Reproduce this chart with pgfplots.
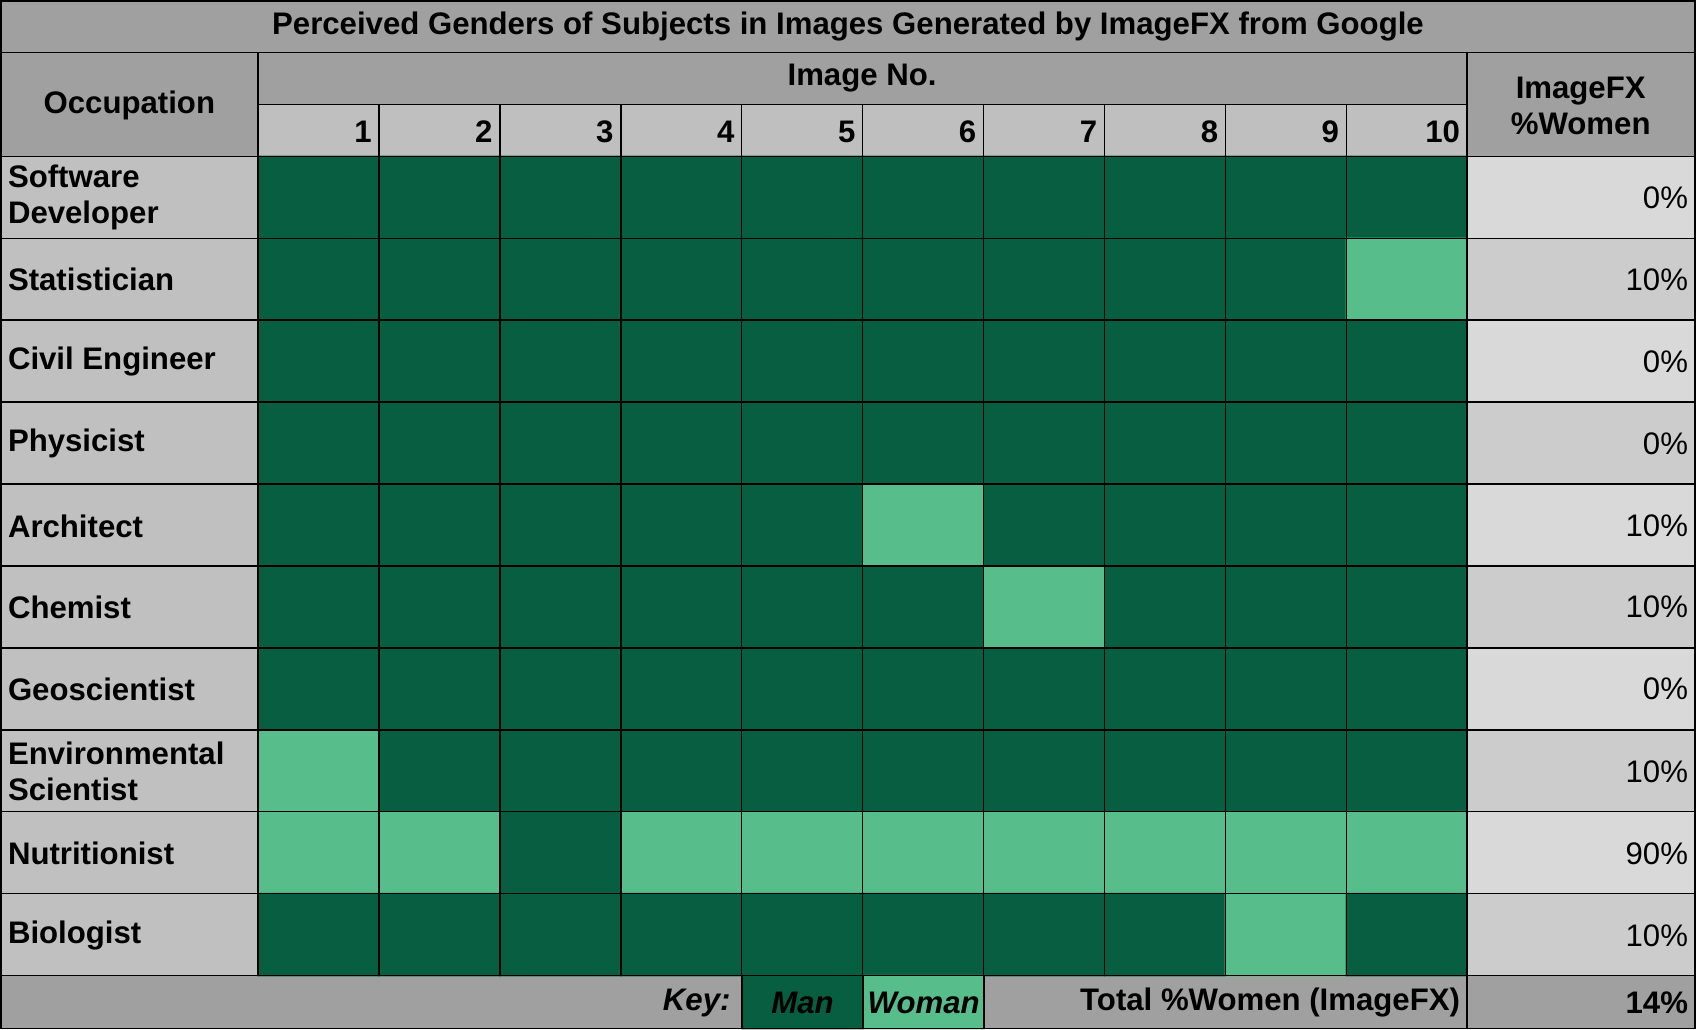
\documentclass[border=0pt]{standalone}
\usepackage{pgfplots}
\pgfplotsset{compat=1.18}
\usepackage{fontspec}
\setmainfont{Liberation Sans}
\definecolor{dk}{RGB}{7,94,64}
\definecolor{lt}{RGB}{87,190,139}
\definecolor{hd}{RGB}{160,160,160}
\definecolor{nb}{RGB}{191,191,191}
\definecolor{lc}{RGB}{192,192,192}
\definecolor{ra}{RGB}{217,217,217}
\definecolor{rb}{RGB}{204,204,204}
\begin{document}
\begin{tikzpicture}
\begin{axis}[x=0.01cm,y=0.01cm,y dir=reverse,xmin=0,xmax=1568,ymin=0,ymax=951,
  hide axis,clip=false,scale only axis,
  colormap={gm}{color(0)=(dk) color(1)=(lt)},point meta min=0,point meta max=1]
\fill[hd] (0,0) rectangle (1568,951);
\fill[nb] (238,96) rectangle (1357,144);
\fill[lc] (0,144) rectangle (238,902);
\pgfplotsinvokeforeach{0,2,4,6,8}{\fill[ra] (1357,{144+75.8*#1}) rectangle (1568,{144+75.8*(#1+1)});
 \fill[rb] (1357,{144+75.8*(#1+1)}) rectangle (1568,{144+75.8*(#1+2)});}
\addplot[matrix plot*,mesh/cols=10,point meta=explicit,shader=flat corner] table[meta=m]{
x y m
293.95 181.9 0
405.85 181.9 0
517.75 181.9 0
629.65 181.9 0
741.55 181.9 0
853.45 181.9 0
965.35 181.9 0
1077.25 181.9 0
1189.15 181.9 0
1301.05 181.9 0
293.95 257.7 0
405.85 257.7 0
517.75 257.7 0
629.65 257.7 0
741.55 257.7 0
853.45 257.7 0
965.35 257.7 0
1077.25 257.7 0
1189.15 257.7 0
1301.05 257.7 1
293.95 333.5 0
405.85 333.5 0
517.75 333.5 0
629.65 333.5 0
741.55 333.5 0
853.45 333.5 0
965.35 333.5 0
1077.25 333.5 0
1189.15 333.5 0
1301.05 333.5 0
293.95 409.3 0
405.85 409.3 0
517.75 409.3 0
629.65 409.3 0
741.55 409.3 0
853.45 409.3 0
965.35 409.3 0
1077.25 409.3 0
1189.15 409.3 0
1301.05 409.3 0
293.95 485.1 0
405.85 485.1 0
517.75 485.1 0
629.65 485.1 0
741.55 485.1 0
853.45 485.1 1
965.35 485.1 0
1077.25 485.1 0
1189.15 485.1 0
1301.05 485.1 0
293.95 560.9 0
405.85 560.9 0
517.75 560.9 0
629.65 560.9 0
741.55 560.9 0
853.45 560.9 0
965.35 560.9 1
1077.25 560.9 0
1189.15 560.9 0
1301.05 560.9 0
293.95 636.7 0
405.85 636.7 0
517.75 636.7 0
629.65 636.7 0
741.55 636.7 0
853.45 636.7 0
965.35 636.7 0
1077.25 636.7 0
1189.15 636.7 0
1301.05 636.7 0
293.95 712.5 1
405.85 712.5 0
517.75 712.5 0
629.65 712.5 0
741.55 712.5 0
853.45 712.5 0
965.35 712.5 0
1077.25 712.5 0
1189.15 712.5 0
1301.05 712.5 0
293.95 788.3 1
405.85 788.3 1
517.75 788.3 0
629.65 788.3 1
741.55 788.3 1
853.45 788.3 1
965.35 788.3 1
1077.25 788.3 1
1189.15 788.3 1
1301.05 788.3 1
293.95 864.1 0
405.85 864.1 0
517.75 864.1 0
629.65 864.1 0
741.55 864.1 0
853.45 864.1 0
965.35 864.1 0
1077.25 864.1 0
1189.15 864.1 1
1301.05 864.1 0
};
\addplot[matrix plot*,mesh/cols=2,mesh/rows=2,point meta=explicit,shader=flat corner] table[meta=m]{
x y m
742 914.25 0
854 914.25 1
742 938.75 0
854 938.75 1
};
\begin{scope}[line width=0.4pt]
\draw (0,0) rectangle (1568,951);
\draw (0,48)--(1568,48);
\draw (238,96)--(1357,96);
\pgfplotsinvokeforeach{0,...,10}{\draw (0,{144+75.8*#1})--(1568,{144+75.8*#1});}
\draw (238,48)--(238,902);
\draw (1357,48)--(1357,951);
\pgfplotsinvokeforeach{1,...,9}{\draw ({238+111.9*#1},96)--({238+111.9*#1},902);}
\draw (686,902)--(686,951); \draw (798,902)--(798,951); \draw (910,902)--(910,951);
\end{scope}
\begin{scope}[font=\fontsize{8.2}{9.4}\selectfont\bfseries,inner sep=0pt]
\node at (784,24) {Perceived Genders of Subjects in Images Generated by ImageFX from Google};
\node at (119,97) {Occupation};
\node at (797,72) {Image No.};
\node[align=center] at (1462,97) {ImageFX\\\%Women};
\pgfplotsinvokeforeach{1,...,10}{\node[anchor=east] at ({238+111.9*#1-6},121) {#1};}
\node[anchor=west,align=left] at (6,182) {Software\\Developer};
\node[anchor=west] at (6,258) {Statistician};
\node[anchor=west] at (6,334) {Civil Engineer};
\node[anchor=west] at (6,410) {Physicist};
\node[anchor=west] at (6,486) {Architect};
\node[anchor=west] at (6,561) {Chemist};
\node[anchor=west] at (6,637) {Geoscientist};
\node[anchor=west,align=left] at (6,713) {Environmental\\Scientist};
\node[anchor=west] at (6,789) {Nutritionist};
\node[anchor=west] at (6,865) {Biologist};
\node[anchor=east] at (676,927) {\itshape Key:};
\node at (742,927) {\itshape Man};
\node at (854,927) {\itshape Woman};
\node[anchor=east] at (1351,927) {Total \%Women (ImageFX)};
\node[anchor=east] at (1562,927) {14\%};
\end{scope}
\begin{scope}[font=\fontsize{8.2}{9.4}\selectfont,inner sep=0pt]
\node[anchor=east] at (1562,182) {0\%};
\node[anchor=east] at (1562,258) {10\%};
\node[anchor=east] at (1562,334) {0\%};
\node[anchor=east] at (1562,410) {0\%};
\node[anchor=east] at (1562,486) {10\%};
\node[anchor=east] at (1562,561) {10\%};
\node[anchor=east] at (1562,637) {0\%};
\node[anchor=east] at (1562,713) {10\%};
\node[anchor=east] at (1562,789) {90\%};
\node[anchor=east] at (1562,865) {10\%};
\end{scope}
\end{axis}
\end{tikzpicture}
\end{document}
